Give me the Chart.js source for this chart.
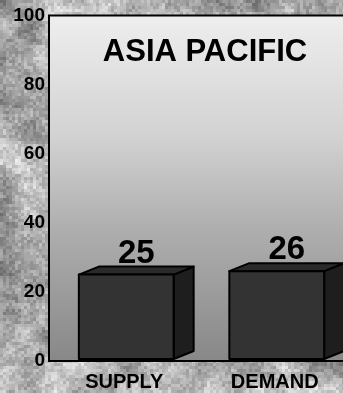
<!DOCTYPE html>
<html>
<head>
<meta charset="utf-8">
<script src="https://cdn.jsdelivr.net/npm/chart.js@4"></script>
<style>
  html, body { margin: 0; padding: 0; overflow: hidden; background: #b0b0b0; }
  #wrap { width: 350px; height: 393px; }
</style>
</head>
<body>
<div id="wrap"><canvas id="chart" width="350" height="393"></canvas></div>
<script>
// chart data
var categories = ['SUPPLY', 'DEMAND'];
var values = [25, 26];
var yTicks = [0, 20, 40, 60, 80, 100];
var chartTitle = 'ASIA PACIFIC';

var FONT = "'Liberation Sans', Arial, Helvetica, sans-serif";
var DEPTH_X = 20, DEPTH_Y = 8;

// cheap repeatable hash for the speckled backdrop
function hash(i, j) {
  var s = Math.sin(i * 127.1 + j * 311.7) * 43758.5453;
  return s - Math.floor(s);
}
function smooth(x, y, cell) {
  var gx = x / cell, gy = y / cell;
  var i = Math.floor(gx), j = Math.floor(gy);
  var fx = gx - i, fy = gy - j;
  fx = fx * fx * (3 - 2 * fx); fy = fy * fy * (3 - 2 * fy);
  var a = hash(i, j), b = hash(i + 1, j), c = hash(i, j + 1), d = hash(i + 1, j + 1);
  return (a * (1 - fx) + b * fx) * (1 - fy) + (c * (1 - fx) + d * fx) * fy;
}

var backdrop = {
  id: 'backdrop',
  beforeDraw: function(chart) {
    var ctx = chart.ctx, area = chart.chartArea;
    var W = chart.width, H = chart.height;
    ctx.save();
    // speckled grey texture
    var cell = 3;
    for (var y = 0; y < H; y += cell) {
      for (var x = 0; x < W; x += cell) {
        var v = 172 + 90 * (smooth(x, y, 26) - 0.5) + 40 * (smooth(x, y, 8) - 0.5) + 44 * (hash(x / cell, y / cell) - 0.5);
        v = Math.max(110, Math.min(245, Math.round(v)));
        ctx.fillStyle = 'rgb(' + v + ',' + v + ',' + v + ')';
        ctx.fillRect(x, y, cell, cell);
      }
    }
    // plot panel with vertical grey gradient
    var g = ctx.createLinearGradient(0, area.top, 0, area.bottom);
    g.addColorStop(0, '#eeeeee');
    g.addColorStop(0.35, '#d2d2d2');
    g.addColorStop(0.62, '#aeaeae');
    g.addColorStop(1, '#888888');
    ctx.fillStyle = g;
    ctx.fillRect(area.left, area.top, W - area.left, area.bottom - area.top);
    ctx.strokeStyle = '#000';
    ctx.lineWidth = 2;
    ctx.beginPath();
    ctx.moveTo(W, area.top);
    ctx.lineTo(area.left, area.top);
    ctx.lineTo(area.left, area.bottom);
    ctx.lineTo(W, area.bottom);
    ctx.stroke();
    // title inside the panel
    ctx.fillStyle = '#000';
    ctx.font = 'bold 31px ' + FONT;
    ctx.textAlign = 'center';
    ctx.textBaseline = 'alphabetic';
    ctx.fillText(chartTitle, area.left + 156, area.top + 46);
    ctx.restore();
  }
};

// 3D boxes drawn over the (invisible) bar elements
var boxes = {
  id: 'boxes',
  afterDatasetsDraw: function(chart) {
    var ctx = chart.ctx;
    var meta = chart.getDatasetMeta(0);
    ctx.save();
    ctx.lineWidth = 2;
    ctx.lineJoin = 'round';
    ctx.strokeStyle = '#000';
    meta.data.forEach(function(bar, i) {
      var w = bar.width;
      var x0 = bar.x - w / 2 + 2, x1 = x0 + w;
      var top = bar.y, base = bar.base - 2;
      // side
      ctx.beginPath();
      ctx.moveTo(x1, top); ctx.lineTo(x1 + DEPTH_X, top - DEPTH_Y);
      ctx.lineTo(x1 + DEPTH_X, base - DEPTH_Y); ctx.lineTo(x1, base); ctx.closePath();
      ctx.fillStyle = '#1e1e1e'; ctx.fill(); ctx.stroke();
      // top
      ctx.beginPath();
      ctx.moveTo(x0, top); ctx.lineTo(x0 + DEPTH_X, top - DEPTH_Y);
      ctx.lineTo(x1 + DEPTH_X, top - DEPTH_Y); ctx.lineTo(x1, top); ctx.closePath();
      ctx.fillStyle = '#2a2a2a'; ctx.fill(); ctx.stroke();
      // front
      ctx.beginPath();
      ctx.rect(x0, top, w, base - top);
      ctx.fillStyle = '#333333'; ctx.fill(); ctx.stroke();
      // value label
      ctx.fillStyle = '#000';
      ctx.font = 'bold 33px ' + FONT;
      ctx.textAlign = 'center';
      ctx.textBaseline = 'alphabetic';
      ctx.fillText(String(values[i]), x0 + (w + DEPTH_X) / 2, top - 12);
    });
    ctx.restore();
  }
};

var elem = document.getElementById('chart');
var chart = new Chart(elem, {
  type: 'bar',
  data: {
    labels: categories,
    datasets: [{
      data: values,
      backgroundColor: 'rgba(0,0,0,0)',
      borderWidth: 0,
      barPercentage: 0.63,
      categoryPercentage: 1
    }]
  },
  options: {
    responsive: false,
    animation: false,
    devicePixelRatio: 1,
    layout: { padding: { top: 14, right: 0, left: 0, bottom: 0 } },
    plugins: { legend: { display: false }, tooltip: { enabled: false } },
    scales: {
      x: {
        grid: { display: false, drawTicks: false },
        border: { display: false },
        ticks: {
          color: '#000',
          padding: 9,
          font: { family: FONT, size: 20, weight: 'bold' }
        },
        afterFit: function(scale) { scale.height = 32; }
      },
      y: {
        min: 0,
        max: 100,
        afterBuildTicks: function(scale) {
          scale.ticks = yTicks.map(function(v) { return { value: v }; });
        },
        grid: { display: false, drawTicks: false },
        border: { display: false },
        ticks: {
          color: '#000',
          padding: 4,
          font: { family: FONT, size: 19, weight: 'bold' }
        },
        afterFit: function(scale) { scale.width = 49; }
      }
    }
  },
  plugins: [backdrop, boxes]
});
</script>
</body>
</html>
